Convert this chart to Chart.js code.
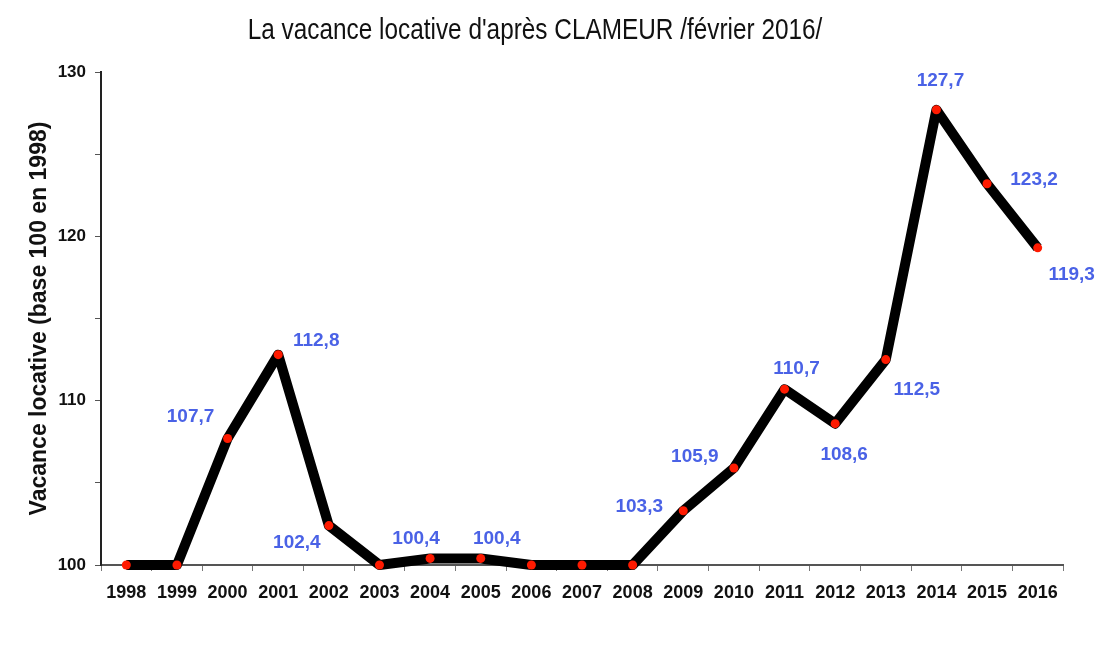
<!DOCTYPE html>
<html>
<head>
<meta charset="utf-8">
<title>Vacance locative CLAMEUR</title>
<script src="https://cdn.jsdelivr.net/npm/chart.js@4/dist/chart.umd.min.js"></script>
<style>
  html, body { margin: 0; padding: 0; background: #fff; }
  #wrap { width: 1112px; height: 645px; }
</style>
</head>
<body>
<div id="wrap"><canvas id="chart"></canvas></div>
<script>
'use strict';

// years on the x axis
const years = ['1998', '1999', '2000', '2001', '2002', '2003', '2004', '2005', '2006', '2007',
               '2008', '2009', '2010', '2011', '2012', '2013', '2014', '2015', '2016'];

// vacance locative, base 100 en 1998
const vacance = [100, 100, 107.7, 112.8, 102.4, 100, 100.4, 100.4, 100, 100,
                 100, 103.3, 105.9, 110.7, 108.6, 112.5, 127.7, 123.2, 119.3];

// value labels shown next to the points (null = none)
const valueLabels = [null, null, '107,7', '112,8', '102,4', null, '100,4', '100,4', null, null,
                     null, '103,3', '105,9', '110,7', '108,6', '112,5', '127,7', '123,2', '119,3'];

const yTicks = [100, 110, 120, 130];

const titleText = "La vacance locative d'après CLAMEUR /février 2016/";

const font = '"Liberation Sans", Arial, sans-serif';

// where each label sits relative to its point, in px
const labelOffset = {
    2: [-37, -22], 3: [38, -14], 4: [-32, 17], 6: [-14, -20], 7: [16, -20],
    11: [-44, -4], 12: [-39, -11], 13: [12, -20], 14: [9, 31], 15: [31, 30],
    16: [4, -29], 17: [47, -4], 18: [34, 27]
};

const pointLabels = {
    id: 'pointLabels',
    afterDatasetsDraw(chart) {
        const ctx = chart.ctx;
        const meta = chart.getDatasetMeta(0);
        ctx.save();
        ctx.font = 'bold 19px ' + font;
        ctx.fillStyle = '#4a62e6';
        ctx.textAlign = 'center';
        ctx.textBaseline = 'middle';
        meta.data.forEach((pt, i) => {
            if (!valueLabels[i]) return;
            const off = labelOffset[i] || [0, -20];
            ctx.fillText(valueLabels[i], pt.x + off[0], pt.y + off[1]);
        });
        ctx.restore();
    }
};

// condensed-looking title (no narrow font installed, so squeeze it)
const narrowTitle = {
    id: 'narrowTitle',
    afterDraw(chart) {
        const ctx = chart.ctx;
        ctx.save();
        ctx.translate(535, 31);
        ctx.scale(0.84, 1);
        ctx.font = '29px ' + font;
        ctx.fillStyle = '#111';
        ctx.textAlign = 'center';
        ctx.textBaseline = 'middle';
        ctx.fillText(titleText, 0, 0);
        ctx.restore();
    }
};

new Chart(document.getElementById('chart'), {
    type: 'line',
    data: {
        labels: years,
        datasets: [{
            data: vacance,
            borderColor: '#000',
            borderWidth: 10,
            borderJoinStyle: 'round',
            pointRadius: 4.5,
            pointBackgroundColor: '#ff1a00',
            pointBorderColor: '#ff1a00',
            pointBorderWidth: 0,
            tension: 0,
            clip: false
        }]
    },
    options: {
        responsive: true,
        maintainAspectRatio: false,
        animation: false,
        devicePixelRatio: 1,
        layout: { padding: { left: 7, right: 49, top: 72, bottom: 0 } },
        plugins: {
            legend: { display: false },
            tooltip: { enabled: false },
            title: { display: false }
        },
        scales: {
            x: {
                offset: true,
                grid: {
                    offset: true,
                    drawOnChartArea: false,
                    tickLength: 6,
                    color: '#777',
                    lineWidth: 1
                },
                border: { display: true, color: '#555', width: 2 },
                ticks: {
                    color: '#111',
                    padding: 11,
                    maxRotation: 0,
                    autoSkip: false,
                    font: { family: font, size: 18, weight: 'bold' }
                },
                afterFit(scale) { scale.height = 80; }
            },
            y: {
                min: 100,
                max: 130,
                ticks: {
                    stepSize: 5,
                    color: '#111',
                    padding: 9,
                    font: { family: font, size: 17, weight: 'bold' },
                    callback: (v) => yTicks.includes(v) ? String(v) : ''
                },
                grid: {
                    drawOnChartArea: false,
                    tickLength: 6,
                    color: '#555',
                    lineWidth: 1
                },
                border: { display: true, color: '#222', width: 2 },
                title: {
                    display: true,
                    text: 'Vacance locative (base 100 en 1998)',
                    color: '#111',
                    font: { family: font, size: 23, weight: 'bold' },
                    padding: { top: 19, bottom: 0 }
                },
                afterFit(scale) { scale.width = 94; }
            }
        }
    },
    plugins: [pointLabels, narrowTitle]
});
</script>
</body>
</html>
